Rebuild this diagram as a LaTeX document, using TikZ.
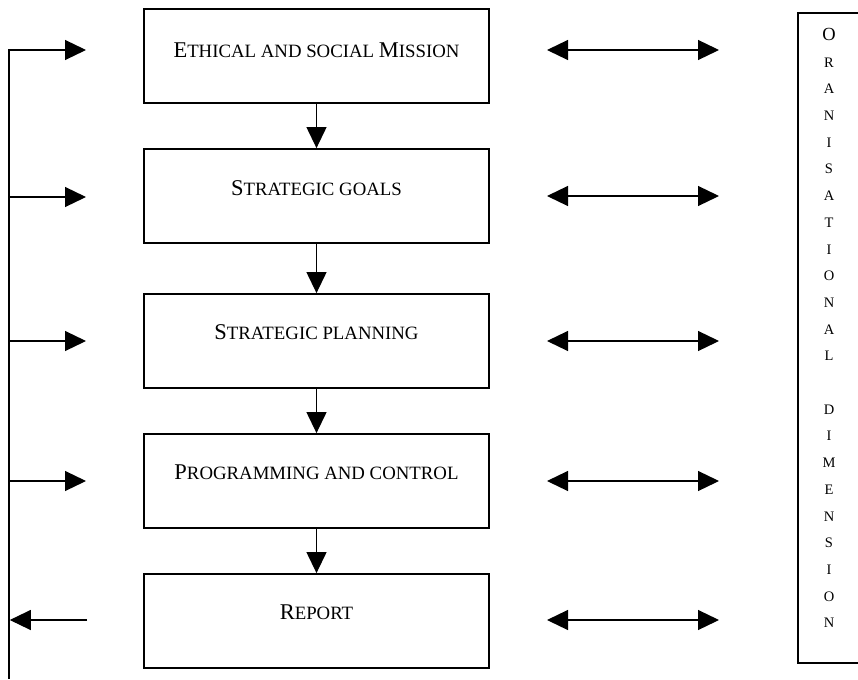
\documentclass[tikz,border=0pt]{standalone}
\usepackage{fontspec}
\setmainfont{Liberation Serif}
\usetikzlibrary{arrows.meta}
\newcommand\bigC[1]{{\fontsize{22.5pt}{22.5pt}\selectfont #1}}
\newcommand\smC[1]{{\fontsize{18.8pt}{18.8pt}\selectfont #1}}
\begin{document}
\begin{tikzpicture}[x=1pt,y=-1pt,
  box/.style={draw, line width=1.8pt, minimum width=345pt, minimum height=94pt, inner sep=0pt},
  conn/.style={line width=1.2pt, -{Triangle[length=21pt,width=20pt]}},
  dconn/.style={line width=1.2pt, {Triangle[length=21pt,width=20pt]}-{Triangle[length=21pt,width=20pt]}},
  txt/.style={inner sep=0pt},
  vline/.style={line width=1.8pt}
]
\useasboundingbox (0,0) rectangle (858,679);
\clip (0,0) rectangle (858,679);

% main boxes
\node[box, label={[txt,yshift=6pt]center:{\bigC{E}\smC{THICAL AND SOCIAL }\bigC{M}\smC{ISSION}}}] (b1) at (316.5,56) {};
\node[box, label={[txt,yshift=8pt]center:{\bigC{S}\smC{TRATEGIC GOALS}}}] (b2) at (316.5,196) {};
\node[box, label={[txt,yshift=8.5pt]center:{\bigC{S}\smC{TRATEGIC PLANNING}}}] (b3) at (316.5,341) {};
\node[box, label={[txt,yshift=8.5pt]center:{\bigC{P}\smC{ROGRAMMING AND CONTROL}}}] (b4) at (316.5,481) {};
\node[box, label={[txt,yshift=9pt]center:{\bigC{R}\smC{EPORT}}}] (b5) at (316.5,621) {};

% vertical flow
\draw[conn] (b1.south) -- (b2.north);
\draw[conn] (b2.south) -- (b3.north);
\draw[conn] (b3.south) -- (b4.north);
\draw[conn] (b4.south) -- (b5.north);

% right box (organisational dimension)
\node[draw, line width=1.8pt, minimum width=64pt, minimum height=650pt, inner sep=0pt] (od) at (830,338) {};
\node[anchor=north, inner sep=0pt, align=center, font=\fontsize{14.5pt}{26.7pt}\selectfont] (odt) at (829,28)
  {{\fontsize{18.5pt}{26.7pt}\selectfont O}\\R\\A\\N\\I\\S\\A\\T\\I\\O\\N\\A\\L\\[26.7pt]D\\I\\M\\E\\N\\S\\I\\O\\N};

% left feedback line
\coordinate (ltop) at (9,49.1);
\coordinate (lbot) at (9,679);
\draw[vline] (ltop) -- (lbot);
\coordinate (la1) at (9,50);    \coordinate (lb1) at (86,50);
\coordinate (la2) at (9,197);   \coordinate (lb2) at (86,197);
\coordinate (la3) at (9,341);   \coordinate (lb3) at (86,341);
\coordinate (la4) at (9,481);   \coordinate (lb4) at (86,481);
\coordinate (la5) at (87,620);  \coordinate (lb5) at (9.8,620);
\draw[conn] (la1) -- (lb1);
\draw[conn] (la2) -- (lb2);
\draw[conn] (la3) -- (lb3);
\draw[conn] (la4) -- (lb4);
\draw[conn] (la5) -- (lb5);

% right double arrows
\coordinate (ra1) at (547,50);  \coordinate (rb1) at (719,50);
\coordinate (ra2) at (547,196); \coordinate (rb2) at (719,196);
\coordinate (ra3) at (547,341); \coordinate (rb3) at (719,341);
\coordinate (ra4) at (547,481); \coordinate (rb4) at (719,481);
\coordinate (ra5) at (547,620); \coordinate (rb5) at (719,620);
\draw[dconn] (ra1) -- (rb1);
\draw[dconn] (ra2) -- (rb2);
\draw[dconn] (ra3) -- (rb3);
\draw[dconn] (ra4) -- (rb4);
\draw[dconn] (ra5) -- (rb5);
\end{tikzpicture}
\end{document}
